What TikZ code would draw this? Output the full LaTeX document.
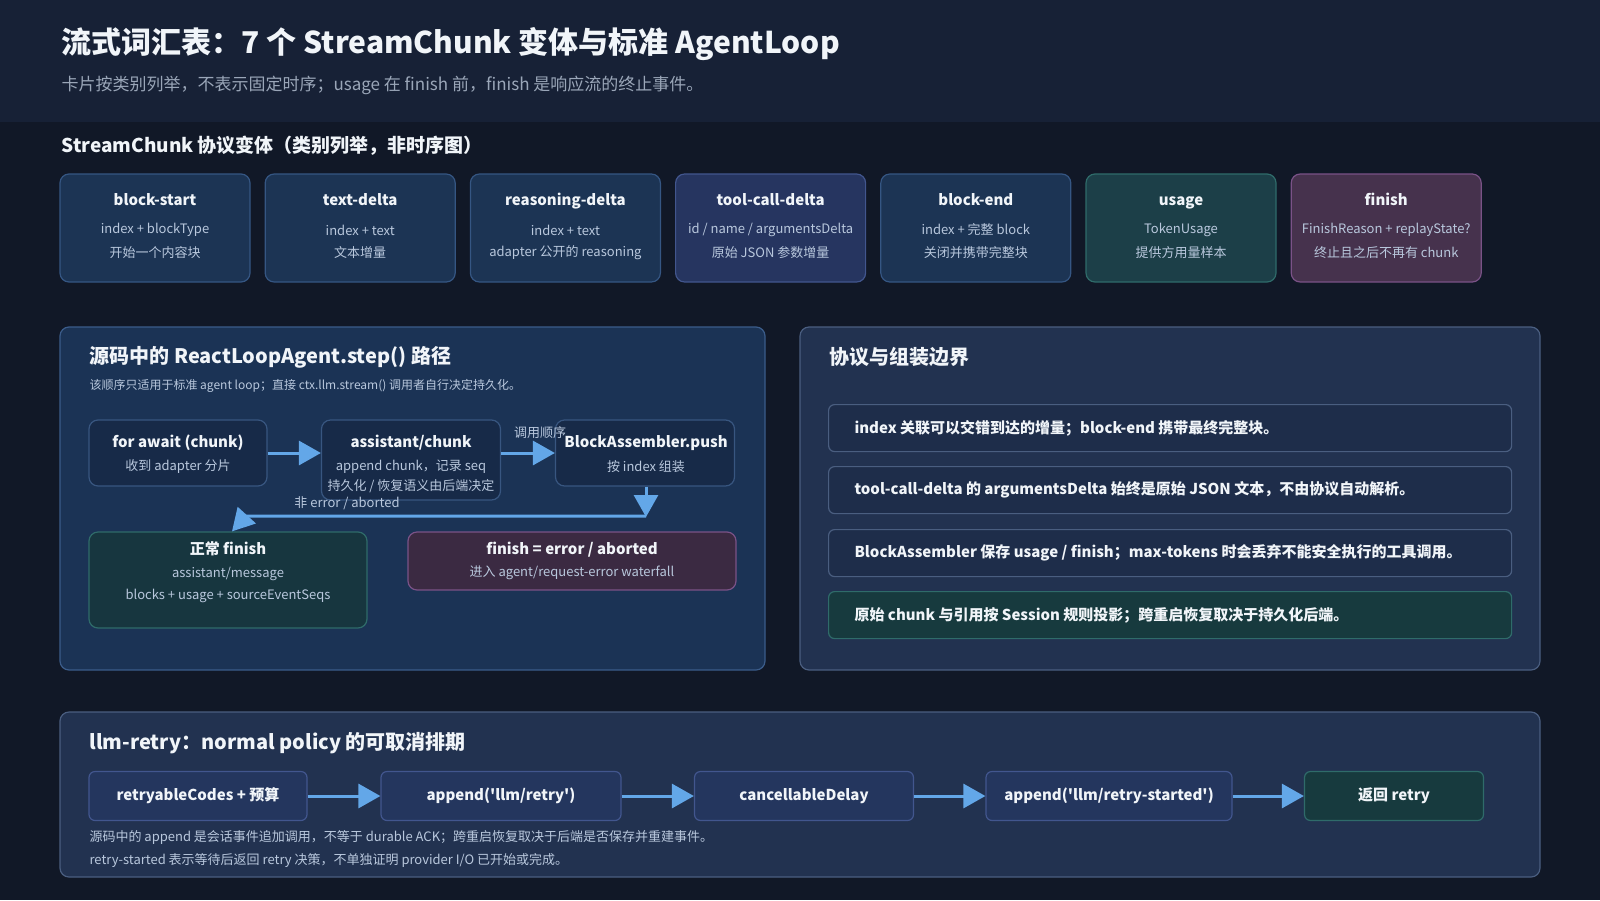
\documentclass[tikz,border=0pt]{standalone}
\usepackage{fontspec}
\setmainfont{Noto Sans CJK SC}[Ligatures=TeXOff]
\usetikzlibrary{arrows.meta}
\definecolor{bg}{HTML}{111827}
\definecolor{hdr}{HTML}{172136}
\definecolor{cardb}{HTML}{1C3454}
\definecolor{cardbd}{HTML}{355683}
\definecolor{cardi}{HTML}{263560}
\definecolor{cardibd}{HTML}{42568E}
\definecolor{cardt}{HTML}{1C3F48}
\definecolor{cardtbd}{HTML}{2F6B6A}
\definecolor{cardp}{HTML}{46324D}
\definecolor{cardpbd}{HTML}{7A5287}
\definecolor{panl}{HTML}{1B3355}
\definecolor{panlbd}{HTML}{3B5C8A}
\definecolor{panr}{HTML}{223250}
\definecolor{panrbd}{HTML}{4A5E80}
\definecolor{nodeb}{HTML}{172A48}
\definecolor{nodebd}{HTML}{385680}
\definecolor{nodet}{HTML}{17363F}
\definecolor{nodep}{HTML}{3B2A42}
\definecolor{rowb}{HTML}{1E2D4A}
\definecolor{rowt}{HTML}{173A3E}
\definecolor{bnode}{HTML}{24365E}
\definecolor{arr}{HTML}{63A7E8}
\definecolor{tw}{HTML}{F1F5F9}
\definecolor{tsub}{HTML}{B9C8DD}
\definecolor{tgray}{HTML}{9AA6B8}
\tikzset{
 x=1pt,y=-1pt,
 box/.style={draw,rounded corners=9pt,line width=1.2pt},
 card/.style={box,minimum width=190pt,minimum height=108pt},
 ct/.style={text=tw,font=\fontsize{15}{18}\selectfont\bfseries,text height=11pt,text depth=4pt},
 cs/.style={text=tsub,font=\fontsize{13}{16}\selectfont},
 fl/.style={draw=arr,line width=3pt,-{Triangle[length=22pt,width=24pt]}},
 row/.style={box,rounded corners=6pt,minimum width=683pt,minimum height=47pt,anchor=north west},
 rt/.style={text=tw,font=\fontsize{15}{18}\selectfont\bfseries,anchor=west},
}
\begin{document}
\begin{tikzpicture}
\useasboundingbox (0,0) rectangle (1600,900);
\fill[bg] (0,0) rectangle (1600,900);
\fill[hdr] (0,0) rectangle (1600,122);
\node[anchor=west,text=tw,font=\fontsize{30}{34}\selectfont\bfseries] (title) at (58,44) {流式词汇表：7 个 StreamChunk 变体与标准 AgentLoop};
\node[anchor=west,text=tgray,font=\fontsize{17}{20}\selectfont] (sub) at (58,85) {卡片按类别列举，不表示固定时序；usage 在 finish 前，finish 是响应流的终止事件。};
\node[anchor=west,text=tw,font=\fontsize{19}{22}\selectfont\bfseries] (sec1) at (58,146) {StreamChunk 协议变体（类别列举，非时序图）};
% cards
\foreach \i/\t/\a/\b/\f/\d in {0/block-start/index + blockType/开始一个内容块/cardb/cardbd,
 1/text-delta/index + text/文本增量/cardb/cardbd,
 2/reasoning-delta/index + text/adapter 公开的 reasoning/cardb/cardbd,
 3/tool-call-delta/{id / name / argumentsDelta}/原始 JSON 参数增量/cardi/cardibd,
 4/block-end/index + 完整 block/关闭并携带完整块/cardb/cardbd,
 5/usage/TokenUsage/提供方用量样本/cardt/cardtbd,
 6/finish/FinishReason + replayState?/终止且之后不再有 chunk/cardp/cardpbd}{
 \node[card,fill=\f,draw=\d] (c\i) at (155+205.2*\i,228) {};
 \node[ct] (c\i t) at (155+205.2*\i,202) {\t};
 \node[cs] (c\i a) at (155+205.2*\i,230) {\a};
 \node[cs] (c\i b) at (155+205.2*\i,253) {\b};
}
% left panel
\draw[box,fill=panl,draw=panlbd] (60,327) rectangle (765,670);
\node[anchor=west,text=tw,font=\fontsize{20}{24}\selectfont\bfseries] (lt) at (86,357) {源码中的 ReactLoopAgent.step() 路径};
\node[anchor=west,text=tsub,font=\fontsize{12}{14}\selectfont] (ls) at (86,386) {该顺序只适用于标准 agent loop；直接 ctx.llm.stream() 调用者自行决定持久化。};
\node[box,fill=nodeb,draw=nodebd,minimum width=178pt,minimum height=66pt] (n1) at (178,453) {};
\node[ct] at (178,444) {for await (chunk)};
\node[cs] at (178,467) {收到 adapter 分片};
\node[box,fill=nodeb,draw=nodebd,minimum width=179pt,minimum height=80pt] (n2) at (411,460) {};
\node[ct] at (411,444) {assistant/chunk};
\node[cs] at (411,467) {append chunk，记录 seq};
\node[cs] at (411,486) {持久化 / 恢复语义由后端决定};
\node[box,fill=nodeb,draw=nodebd,minimum width=179pt,minimum height=66pt] (n3) at (645,453) {};
\node[ct] at (646,444) {BlockAssembler.push};
\node[cs] at (646,467) {按 index 组装};
\node[box,fill=nodet,draw=cardtbd,minimum width=278pt,minimum height=96pt] (n4) at (228,580) {};
\node[ct] at (228,551) {正常 finish};
\node[cs] at (228,574) {assistant/message};
\node[cs] at (228,596) {blocks + usage + sourceEventSeqs};
\node[box,fill=nodep,draw=cardpbd,minimum width=328pt,minimum height=58pt] (n5) at (572,561) {};
\node[ct] at (572,551) {finish = error / aborted};
\node[cs] at (572,573) {进入 agent/request-error waterfall};
\draw[fl] (n1.east) -- (n2.west |- n1.east);
\draw[fl] (n2.east |- n3.west) -- (n3.west);
\node[text=tsub,font=\fontsize{13}{16}\selectfont] (lab1) at (540,433) {调用顺序};
\coordinate (j) at (646,516);
\draw[fl] (n3.south -| j) -- ([yshift=-1pt]j);
\draw[fl] (j) -- (246,516) -- (n4.north -| 232,0);
\node[text=tsub,font=\fontsize{13}{16}\selectfont] (lab2) at (347,503) {非 error / aborted};
% right panel
\draw[box,fill=panr,draw=panrbd] (800,327) rectangle (1540,670);
\node[anchor=west,text=tw,font=\fontsize{20}{24}\selectfont\bfseries] (rt) at (826,357) {协议与组装边界};
\node[row,fill=rowb,draw=panrbd] (r1) at (828,404) {};
\node[rt] at (851,428) {index 关联可以交错到达的增量；block-end 携带最终完整块。};
\node[row,fill=rowb,draw=panrbd] (r2) at (828,466) {};
\node[rt] at (851,490) {tool-call-delta 的 argumentsDelta 始终是原始 JSON 文本，不由协议自动解析。};
\node[row,fill=rowb,draw=panrbd] (r3) at (828,529) {};
\node[rt] at (851,553) {BlockAssembler 保存 usage / finish；max-tokens 时会丢弃不能安全执行的工具调用。};
\node[row,fill=rowt,draw=cardtbd] (r4) at (828,591) {};
\node[rt] at (851,615) {原始 chunk 与引用按 Session 规则投影；跨重启恢复取决于持久化后端。};
% bottom panel
\draw[box,fill=panr,draw=panrbd] (60,712) rectangle (1540,877);
\node[anchor=west,text=tw,font=\fontsize{20}{24}\selectfont\bfseries] (bt) at (86,743) {llm-retry：normal policy 的可取消排期};
\tikzset{bn/.style={box,rounded corners=6pt,fill=bnode,draw=cardibd,minimum height=49pt,text=tw,font=\fontsize{15}{18}\selectfont\bfseries}}
\node[bn,minimum width=218pt] (b1) at (198,796) {retryableCodes + 预算};
\node[bn,minimum width=240pt] (b2) at (501,796) {append('llm/retry')};
\node[bn,minimum width=219pt] (b3) at (804,796) {cancellableDelay};
\node[bn,minimum width=246pt] (b4) at (1109,796) {append('llm/retry-started')};
\node[bn,minimum width=179pt,fill=rowt,draw=cardtbd] (b5) at (1394,796) {返回 retry};
\draw[fl] (b1) -- (b2);
\draw[fl] (b2) -- (b3);
\draw[fl] (b3) -- (b4);
\draw[fl] (b4) -- (b5);
\node[anchor=west,text=tsub,font=\fontsize{13}{16}\selectfont] (bn1) at (86,837) {源码中的 append 是会话事件追加调用，不等于 durable ACK；跨重启恢复取决于后端是否保存并重建事件。};
\node[anchor=west,text=tsub,font=\fontsize{13}{16}\selectfont] (bn2) at (86,860) {retry-started 表示等待后返回 retry 决策，不单独证明 provider I/O 已开始或完成。};
\end{tikzpicture}
\end{document}
